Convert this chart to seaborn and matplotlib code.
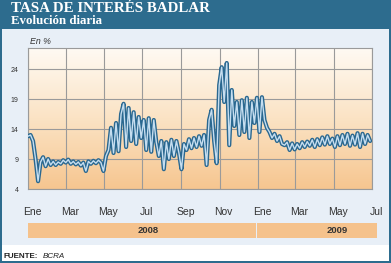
import numpy as np
import pandas as pd
import matplotlib
matplotlib.use("Agg")
import matplotlib.pyplot as plt
from matplotlib.patches import Rectangle
from matplotlib.transforms import ScaledTranslation
from matplotlib.colors import LinearSegmentedColormap
import seaborn as sns

# ---------------- data ----------------
dates = pd.date_range("2008-01-01", "2009-06-28", freq="4D")
values = [
    12.8, 13.0, 12.0, 9.0, 5.3, 8.5, 9.3, 7.8, 9.0, 8.0,
    8.6, 8.0, 8.5, 8.2, 8.8, 8.4, 8.9, 8.2, 8.6, 8.1,
    8.5, 7.9, 8.4, 7.0, 8.6, 8.2, 8.7, 8.3, 8.8, 8.4,
    7.0, 9.5, 10.5, 14.2, 10.0, 15.0, 10.3, 16.5, 18.2, 11.0,
    17.5, 12.0, 16.8, 11.5, 16.0, 12.5, 15.5, 10.5, 15.8, 10.2,
    15.5, 11.8, 9.5, 12.0, 7.3, 11.8, 9.0, 12.2, 9.5, 12.0,
    10.0, 7.3, 11.5, 10.5, 12.3, 10.8, 12.5, 11.0, 12.8, 11.2,
    13.0, 8.0, 15.5, 17.2, 12.0, 8.3, 21.3, 24.3, 18.5, 25.0,
    11.3, 20.5, 14.5, 18.5, 13.0, 18.8, 13.5, 19.2, 12.5, 18.5,
    15.0, 19.2, 13.5, 19.3, 15.5, 14.2, 13.5, 12.5, 13.2, 12.0,
    12.8, 11.5, 11.3, 11.8, 10.5, 11.6, 10.6, 11.5, 10.8, 11.8,
    11.0, 11.9, 11.2, 12.2, 11.0, 12.3, 11.3, 12.6, 11.4, 12.8,
    11.5, 12.4, 11.0, 12.8, 11.3, 13.0, 11.5, 13.2, 11.2, 12.9,
    11.4, 13.3, 11.0, 13.2, 11.5, 13.0, 12.0,
]
values = values[:len(dates)]
dates = dates[:len(values)]

month_ticks = pd.to_datetime([
    "2008-01-01", "2008-03-01", "2008-05-01", "2008-07-01", "2008-09-01",
    "2008-11-01", "2009-01-01", "2009-03-01", "2009-05-01", "2009-07-01",
])
month_labels = ["Ene", "Mar", "May", "Jul", "Sep", "Nov", "Ene", "Mar", "May", "Jul"]
y_ticks = [4, 9, 14, 19, 24]
years = ["2008", "2009"]

title = "TASA DE INTERÉS BADLAR"
subtitle = "Evolución diaria"
unit = "En %"

# ---------------- style ----------------
W, H = 391, 263
DPI = 100
HEADER = "#2d6c8e"
PANEL = "#e8eff7"
DARK = "#2a6890"
LIGHT = "#c6def0"
GRID = "#9a9a9a"
BAR = "#f5c28c"

sns.set_theme(style="white")
plt.rcParams["font.family"] = ["Liberation Sans", "DejaVu Sans"]

fig = plt.figure(figsize=(W / DPI, H / DPI), dpi=DPI)

# decoration axes in pixel coordinates
deco = fig.add_axes([0, 0, 1, 1], zorder=0)
deco.set_xlim(0, W)
deco.set_ylim(H, 0)
deco.axis("off")
deco.add_patch(Rectangle((0, 0), W, H, facecolor=HEADER, edgecolor="none"))
deco.add_patch(Rectangle((2, 29), W - 4, 216, facecolor=PANEL, edgecolor="none"))
deco.add_patch(Rectangle((2, 245), W - 4, 16, facecolor="white", edgecolor="none"))
deco.text(11, 8, title, family=["Liberation Serif", "DejaVu Serif"], weight="bold",
          fontsize=10.8, color="white", va="center", ha="left")
deco.text(11, 21, subtitle, family=["Liberation Serif", "DejaVu Serif"], weight="bold",
          fontsize=9.3, color="white", va="center", ha="left")
deco.text(30, 41, unit, style="italic", fontsize=6.3, color="#333333", va="center", ha="left")

# year bar
deco.add_patch(Rectangle((28, 223), 228, 15, facecolor=BAR, edgecolor="none"))
deco.add_patch(Rectangle((257, 223), 120, 15, facecolor=BAR, edgecolor="none"))
deco.text(148, 230.5, years[0], weight="bold", fontsize=6.8, color="#333333", ha="center", va="center")
deco.text(337, 230.5, years[1], weight="bold", fontsize=6.8, color="#333333", ha="center", va="center")

# source
deco.text(3, 256, "FUENTE:", weight="bold", fontsize=5.8, color="#222222", ha="left", va="center")
deco.text(43, 256, "BCRA", style="italic", fontsize=5.8, color="#222222", ha="left", va="center")

# plot area
left, right, top, bottom = 28, 372, 48, 189
pos = [left / W, 1 - bottom / H, (right - left) / W, (bottom - top) / H]

bg = fig.add_axes(pos, zorder=1)
grad = np.linspace(0, 1, 256).reshape(-1, 1)
cmap = LinearSegmentedColormap.from_list("g", ["#fffaf3", "#fbe3c4", "#f6c690"])
bg.imshow(grad, aspect="auto", cmap=cmap, extent=[0, 1, 0, 1], origin="upper")
bg.axis("off")

ax = fig.add_axes(pos, zorder=2)
ax.patch.set_alpha(0)

df = pd.DataFrame({"fecha": dates, "tasa": values})
sns.lineplot(data=df, x="fecha", y="tasa", ax=ax, color=DARK, linewidth=3.0,
             solid_joinstyle="round", zorder=3)
sns.lineplot(data=df, x="fecha", y="tasa", ax=ax, color=LIGHT, linewidth=1.0,
             solid_joinstyle="round", zorder=4)

ax.set_xlim(month_ticks[0], month_ticks[-1])
ax.set_ylim(4, 27.5)
ax.set_xticks(month_ticks)
ax.set_xticklabels(month_labels)
ax.set_yticks(y_ticks)
ax.set_yticklabels([str(v) for v in y_ticks])
ax.set_xlabel("")
ax.set_ylabel("")
ax.grid(True, color=GRID, linewidth=0.8)
for s in ax.spines.values():
    s.set_color(GRID)
    s.set_linewidth(0.8)
ax.tick_params(axis="x", length=0, pad=13, labelsize=7.5, labelcolor="#333333")
ax.tick_params(axis="y", length=0, pad=7, labelsize=5, labelcolor="#333333")
off = ScaledTranslation(4 / DPI, 0, fig.dpi_scale_trans)
for lab in ax.get_xticklabels():
    lab.set_transform(lab.get_transform() + off)

fig.savefig("out.png", dpi=DPI)
